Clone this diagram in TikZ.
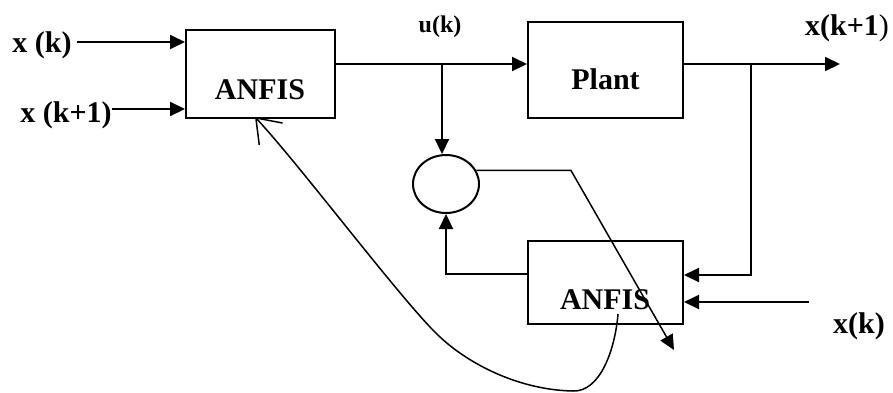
\documentclass[tikz,border=0pt]{standalone}
\usepackage{fontspec}
\setmainfont{Liberation Serif}
\usetikzlibrary{arrows.meta,shapes.geometric,calc}
\begin{document}
\begin{tikzpicture}[x=1pt,y=-1pt,
  blk/.style={draw,line width=2pt,inner sep=0pt},
  lbl/.style={font=\bfseries\fontsize{30}{30}\selectfont,inner sep=0pt,anchor=base},
  arr/.style={line width=2pt,-{Triangle[length=15pt,width=14pt]}},
  thin/.style={line width=1.5pt}]
\useasboundingbox (0,0) rectangle (893,392);
% blocks
\node[blk,minimum width=149pt,minimum height=88pt] (anfisA) at (260.5,74) {};
\node[blk,minimum width=155pt,minimum height=96pt] (plant) at (605.5,70) {};
\node[blk,ellipse,minimum width=66pt,minimum height=58pt] (sum) at (446,184) {};
\node[blk,minimum width=155pt,minimum height=83pt] (anfisB) at (605.5,282.5) {};
% texts
\node[lbl] (tA) at (260,99) {ANFIS};
\node[lbl] (tP) at (605.5,89) {Plant};
\node[lbl] (tB) at (605,309) {ANFIS};
\node[lbl] (lxk) at (42,52) {x (k)};
\node[lbl] (lxk1) at (66,122) {x (k+1)};
\node[lbl,font=\bfseries\fontsize{24}{24}\selectfont] (lu) at (440,32) {u(k)};
\node[lbl] (lxo) at (847,35) {x(k+1\textmd{)}};
\node[lbl] (lxk2) at (859,333) {x(k)};
% coordinates
\coordinate (xkA) at (77,42);
\coordinate (xk1A) at (112,109);
\coordinate (uj) at (442,64);
\coordinate (xj) at (751,64);
\coordinate (xout) at (840,64);
\coordinate (xkB) at (809,302);
\coordinate (dbend) at (571,171);
\coordinate (dtip) at (674,350);
\coordinate (cs) at (618,314);
\coordinate (ce) at (255,117);
% connectors
\draw[arr] (xkA) -- (xkA -| anfisA.west);
\draw[arr] (xk1A) -- (xk1A -| anfisA.west);
\draw[arr] (anfisA.east |- uj) -- (plant.west |- uj);
\draw[arr] (uj) -- (uj |- sum.north);
\draw[arr] (plant.east |- xj) -- (xout);
\draw[arr] (xj) |- ([yshift=7.5pt]anfisB.east);
\draw[arr] (xkB) -- (xkB -| anfisB.east);
\draw[arr] ([yshift=8.5pt]anfisB.west) -| (sum.south);
\draw[arr,thin] (sum.24) -- (sum.24 -| dbend) -- (dtip);
\draw[thin,-{Straight Barb[length=22pt,width=32pt,line width=1.5pt]}]
  (cs) .. controls (615,350) and (600,392) .. (573,391)
       .. controls (520,390) and (470,365) .. (440,337)
       .. controls (405,305) and (300,165) .. (ce);
\end{tikzpicture}
\end{document}
